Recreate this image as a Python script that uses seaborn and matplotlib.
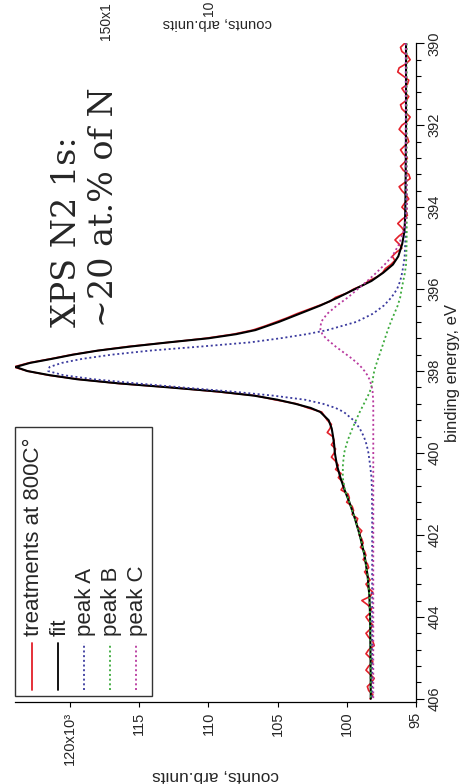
import numpy as np
import pandas as pd
import matplotlib
matplotlib.use("Agg")
import matplotlib.pyplot as plt
import seaborn as sns
from matplotlib.lines import Line2D
from matplotlib.patches import Rectangle
from matplotlib.ticker import MultipleLocator, FixedLocator, FixedFormatter
from matplotlib import font_manager

# ---------------- data ----------------
# measured spectrum (binding energy grid 390.0 ... 406.0 eV, step 0.1)
energy_data = np.linspace(390.0, 406.0, 161)
counts_data = [
    95.8, 96.1, 96.0, 95.6, 95.4, 95.7, 96.2, 96.3, 95.9, 95.5,
    95.6, 96.0, 95.8, 95.5, 95.7, 96.1, 96.0, 95.7, 95.4, 95.6,
    96.0, 96.2, 95.9, 95.6, 95.5, 95.8, 96.1, 95.9, 95.6, 95.8,
    96.1, 95.9, 95.5, 95.4, 95.8, 96.2, 96.0, 95.7, 95.5, 95.8,
    96.0, 95.7, 95.6, 96.0, 96.3, 96.0, 95.8, 96.2, 96.5, 96.2,
    96.0, 96.4, 96.7, 96.5, 96.8, 97.2, 97.4, 97.8, 98.4, 98.8,
    99.5, 100.0, 100.8, 101.2, 102.0, 102.8, 103.6, 104.3, 105.1, 105.9,
    106.8, 108.2, 110.2, 112.9, 115.8, 118.0, 119.9, 121.4, 123.0, 124.1,
    123.1, 121.6, 119.4, 116.6, 112.7, 109.5, 106.6, 105.2, 103.6, 102.8,
    101.8, 101.6, 101.4, 101.1, 101.2, 101.4, 101.0, 100.9, 101.1, 100.8,
    100.9, 101.1, 100.8, 100.6, 100.8, 100.4, 100.6, 100.3, 100.2, 100.4,
    99.9, 99.8, 100.0, 99.6, 99.5, 99.6, 99.2, 99.3, 99.2, 98.9,
    99.1, 98.9, 98.8, 99.0, 98.7, 98.6, 98.8, 98.5, 98.4, 98.7,
    98.5, 98.3, 98.6, 98.4, 98.1, 98.3, 98.9, 98.5, 98.2, 98.3,
    98.6, 98.4, 98.1, 98.3, 98.6, 98.4, 98.1, 98.0, 98.4, 98.6,
    98.3, 98.1, 98.4, 98.6, 98.3, 98.0, 98.2, 98.5, 98.4, 98.1,
    98.3,
]

# fitted curves
energy_model = [390, 391, 392, 393, 393.5, 394, 394.3, 394.6, 394.9, 395.2,
                395.4, 395.6, 395.8, 396.0, 396.2, 396.4, 396.6, 396.8,
                397.0, 397.1, 397.2, 397.3, 397.4, 397.5, 397.6, 397.7, 397.8, 397.9,
                398.0, 398.1, 398.2, 398.3, 398.4, 398.5, 398.6, 398.7, 398.8, 398.9,
                399.0, 399.2, 399.4, 399.6, 399.8, 400.0, 400.3, 400.6, 400.9,
                401.2, 401.6, 402.0, 402.5, 403.0, 403.5, 404, 405, 406]
fit = [95.70, 95.70, 95.70, 95.72, 95.73, 95.75, 95.77, 95.82, 95.98, 96.26,
       96.65, 97.35, 98.20, 99.40, 100.60, 101.90, 103.40, 104.90,
       106.60, 108.00, 110.00, 112.90, 115.60, 118.00, 119.80, 121.30, 122.90, 123.95,
       123.10, 121.50, 119.50, 116.50, 112.80, 109.30, 106.70, 105.00, 103.70, 102.60,
       101.90, 101.30, 101.08, 100.98, 100.90, 100.85, 100.70, 100.45, 100.15,
       99.80, 99.40, 99.05, 98.70, 98.48, 98.35, 98.30, 98.27, 98.25]
peak_a = [95.72, 95.72, 95.72, 95.72, 95.72, 95.72, 95.73, 95.74, 95.76, 95.80,
          95.88, 95.98, 96.12, 96.35, 96.75, 97.30, 98.10, 99.30,
          101.40, 102.90, 104.80, 107.00, 110.50, 114.20, 117.00, 119.10, 120.60, 121.50,
          121.60, 120.50, 118.30, 115.20, 111.90, 108.30, 105.30, 103.00, 101.70, 100.80,
          100.20, 99.50, 99.05, 98.75, 98.55, 98.42, 98.30, 98.20, 98.17,
          98.16, 98.15, 98.15, 98.15, 98.15, 98.15, 98.15, 98.15, 98.15]
peak_b = [95.65, 95.65, 95.65, 95.65, 95.65, 95.65, 95.65, 95.65, 95.66, 95.68,
          95.70, 95.78, 95.90, 96.02, 96.12, 96.30, 96.55, 96.80,
          97.02, 97.12, 97.22, 97.32, 97.42, 97.52, 97.62, 97.72, 97.82, 97.92,
          98.00, 98.06, 98.10, 98.15, 98.22, 98.32, 98.45, 98.60, 98.75, 98.90,
          99.05, 99.32, 99.58, 99.82, 100.02, 100.18, 100.27, 100.28, 100.12,
          99.80, 99.40, 99.05, 98.70, 98.48, 98.35, 98.30, 98.27, 98.25]
peak_c = [95.70, 95.70, 95.70, 95.68, 95.65, 95.62, 95.70, 95.90, 96.20, 96.70,
          97.25, 97.85, 98.50, 99.20, 99.90, 100.70, 101.40, 101.85,
          101.90, 101.75, 101.50, 101.15, 100.80, 100.40, 100.00, 99.60, 99.25, 98.95,
          98.70, 98.50, 98.35, 98.25, 98.17, 98.12, 98.10, 98.08, 98.07, 98.07,
          98.07, 98.07, 98.07, 98.07, 98.07, 98.07, 98.07, 98.07, 98.07,
          98.07, 98.07, 98.07, 98.07, 98.07, 98.07, 98.07, 98.07, 98.07]

count_ticks = [95, 100, 105, 110, 115, 120]
count_tick_labels = ["95", "100", "105", "110", "115", "120x10³"]
legend_labels = ["treatments at 800C°", "fit", "peak A", "peak B", "peak C"]
annotation = "XPS N2 1s:\n~20 at.% of N"

# ---------------- style ----------------
sns.set_style("white")
names = {f.name for f in font_manager.fontManager.ttflist}
NARROW = "Liberation Sans Narrow" if "Liberation Sans Narrow" in names else "Liberation Sans"
plt.rcParams['font.family'] = ['Liberation Sans', 'DejaVu Sans']

C_DATA = "#e3202a"
C_FIT = "#000000"
C_A = "#3a3a9e"
C_B = "#3caa3c"
C_C = "#b8389e"
DOT = (0, (1.1, 1.5))

W, H = 459, 784
fig = plt.figure(figsize=(W / 100, H / 100), dpi=100)
AX_L, AX_R, AX_T, AX_B = 15.0, 415.7, 43.3, 701.7
ax = fig.add_axes([AX_L / W, 1 - AX_B / H, (AX_R - AX_L) / W, (AX_B - AX_T) / H])


def fx(px):
    return (px - AX_L) / (AX_R - AX_L)


def fy(py):
    return (AX_B - py) / (AX_B - AX_T)


df_data = pd.DataFrame({"energy": energy_data, "counts": counts_data})
df_model = pd.DataFrame({"energy": energy_model, "fit": fit, "A": peak_a, "B": peak_b, "C": peak_c})

sns.lineplot(data=df_data, x="counts", y="energy", sort=False, estimator=None, orient="y",
             color=C_DATA, lw=1.2, ax=ax)
sns.lineplot(data=df_model, x="fit", y="energy", sort=False, estimator=None, orient="y",
             color=C_FIT, lw=1.5, ax=ax)
sns.lineplot(data=df_model, x="A", y="energy", sort=False, estimator=None, orient="y",
             color=C_A, lw=1.3, linestyle=DOT, ax=ax)
sns.lineplot(data=df_model, x="B", y="energy", sort=False, estimator=None, orient="y",
             color=C_B, lw=1.3, linestyle=DOT, ax=ax)
sns.lineplot(data=df_model, x="C", y="energy", sort=False, estimator=None, orient="y",
             color=C_C, lw=1.3, linestyle=DOT, ax=ax)

ax.set_xlim(124.0, 95.0)
ax.set_ylim(406.07, 390.0)

ax.xaxis.set_major_locator(FixedLocator(count_ticks))
ax.xaxis.set_major_formatter(FixedFormatter(count_tick_labels))
ax.yaxis.tick_right()
ax.yaxis.set_label_position("right")
ax.yaxis.set_major_locator(MultipleLocator(2))
ax.yaxis.set_minor_locator(MultipleLocator(0.4))

for s in ["top", "left"]:
    ax.spines[s].set_visible(False)
for s in ["right", "bottom"]:
    ax.spines[s].set_visible(True)
    ax.spines[s].set_color("black")
    ax.spines[s].set_linewidth(0.9)

ax.tick_params(axis="y", which="major", direction="out", length=5.8, width=0.8, color="black",
               right=True, left=False, labelright=True, labelleft=False,
               labelrotation=90, pad=3.0, labelsize=10.5, labelfontfamily=NARROW)
ax.tick_params(axis="y", which="minor", direction="out", length=3.6, width=0.8, color="black",
               right=True, left=False)
ax.tick_params(axis="x", which="major", direction="out", length=3.8, width=0.8, color="black",
               bottom=True, top=False, labelrotation=90, pad=3.5, labelsize=10.5,
               labelfontfamily=NARROW)

ax.set_ylabel("binding energy, eV", fontsize=12, labelpad=2)
ax.set_xlabel("counts, arb.units", fontsize=12.4, rotation=180, labelpad=2)
ax.grid(False)
if ax.get_legend() is not None:
    ax.get_legend().remove()

# manual (rotated) legend
ax.add_patch(Rectangle((fx(15), fy(696)), fx(152) - fx(15), fy(427) - fy(696),
                       transform=ax.transAxes, facecolor="white", edgecolor="#333333",
                       lw=1.0, zorder=5, clip_on=False))
leg_cols = [32, 58, 84, 110, 136]
leg_colors = [C_DATA, C_FIT, C_A, C_B, C_C]
leg_styles = ["-", "-", DOT, DOT, DOT]
for xc, lab, col, ls in zip(leg_cols, legend_labels, leg_colors, leg_styles):
    ax.add_line(Line2D([fx(xc), fx(xc)], [fy(690), fy(643)], transform=ax.transAxes,
                       color=col, lw=1.3, linestyle=ls, zorder=6, clip_on=False))
    ax.text(fx(xc + 2), fy(636), lab, rotation=90, ha="center", va="bottom",
            fontsize=16, transform=ax.transAxes, zorder=6)

ax.text(fx(51), fy(327), annotation, rotation=90, ha="left", va="bottom",
        multialignment="left", fontsize=24, family="DejaVu Serif",
        transform=ax.transAxes, zorder=4)

# visible remnants of the neighbouring panel at the top edge
fig.text(106 / W, 1 - 2 / H, "150x1", rotation=90, ha="center", va="top",
         fontsize=10, family=NARROW)
fig.text(209 / W, 1 - 1 / H, "10", rotation=90, ha="center", va="top",
         fontsize=10, family=NARROW)
fig.text(217.5 / W, 1 - 23 / H, "counts, arb.units", rotation=180, ha="center",
         va="center", fontsize=10.7)

fig.canvas.draw()
for t in ax.yaxis.get_major_ticks():
    t.label2.set_ha("left")
    t.label2.set_va("center")

fig.savefig("out.png", dpi=100)
